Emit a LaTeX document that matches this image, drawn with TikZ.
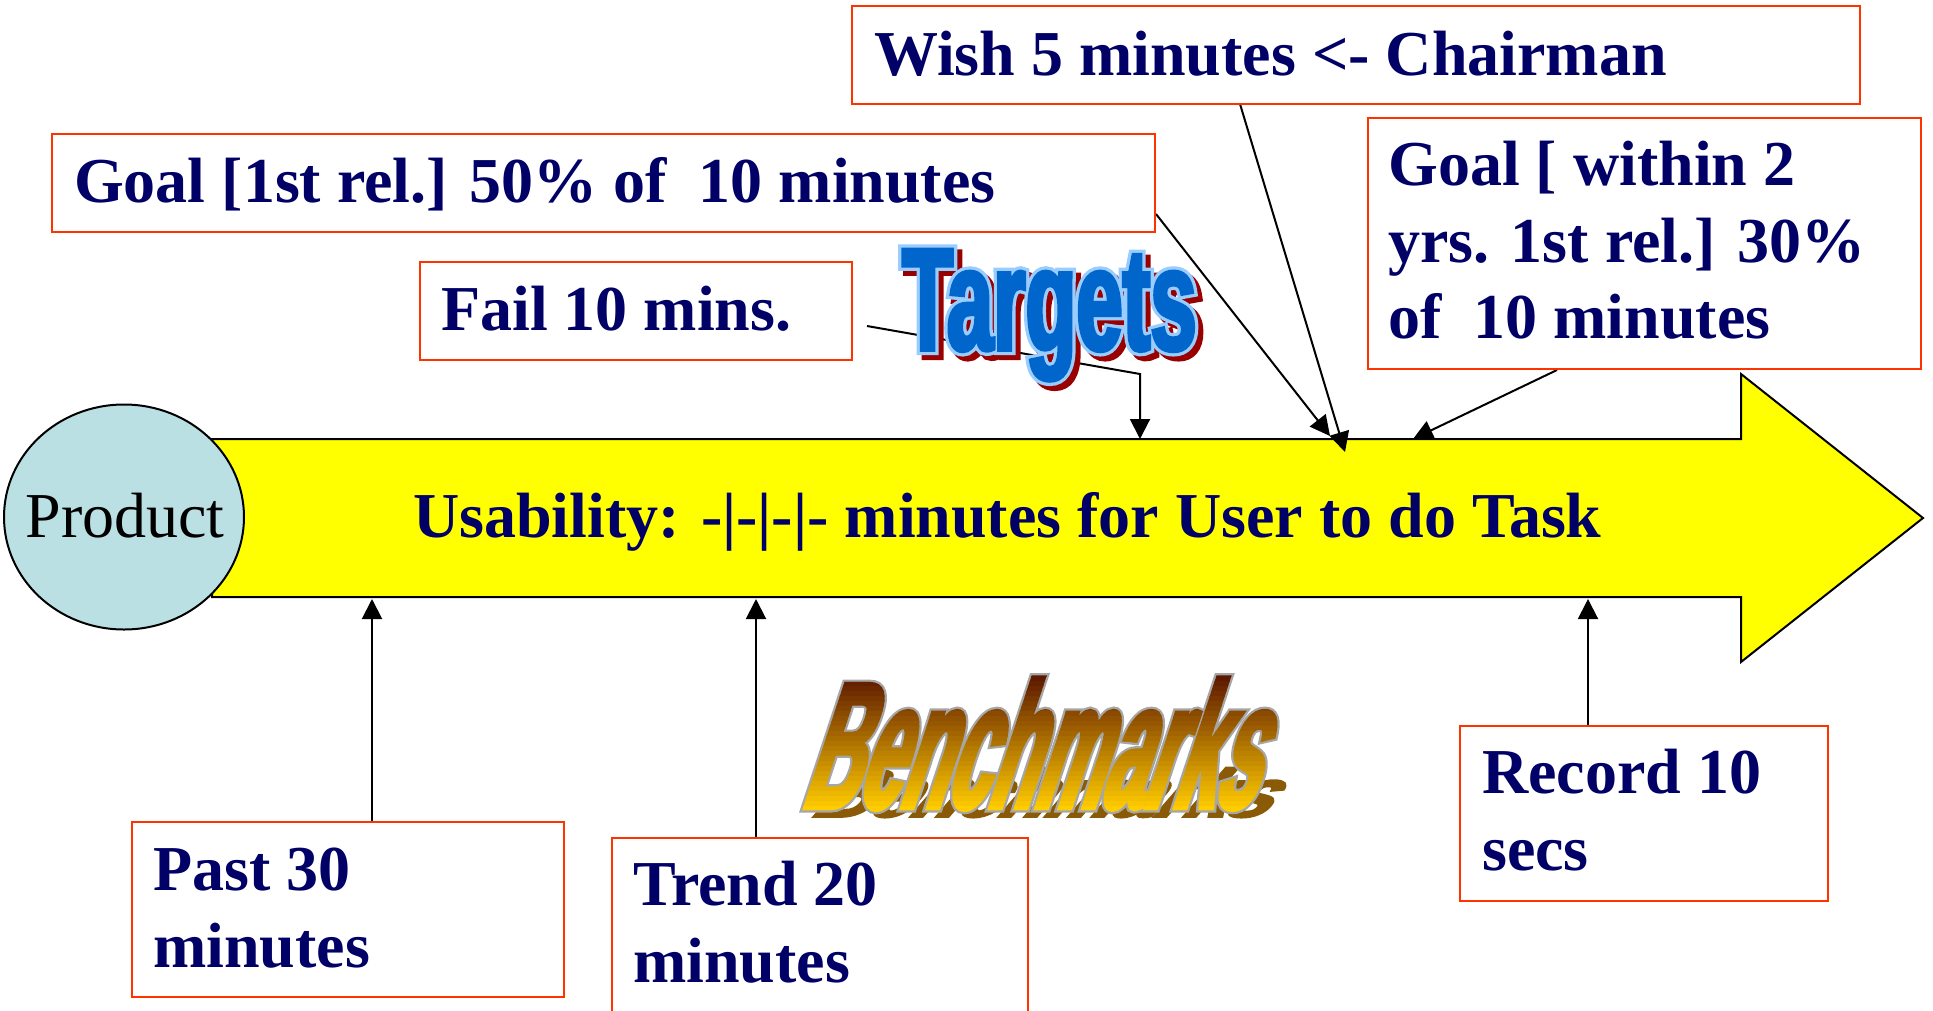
\documentclass[tikz,border=0pt]{standalone}
\usepackage{fontspec}
\setmainfont{Liberation Serif}
\newfontfamily\tgtfont[FakeStretch=0.57,FakeBold=2.5]{Liberation Sans}
\newfontfamily\tgtedgefont[FakeStretch=0.57,FakeBold=7]{Liberation Sans}
\newfontfamily\bmkfont[FakeStretch=0.42,FakeSlant=0.33,FakeBold=2.5]{Liberation Sans}
\newfontfamily\bmkedgefont[FakeStretch=0.42,FakeSlant=0.33,FakeBold=5]{Liberation Sans}
\usetikzlibrary{arrows.meta,calc,shapes.geometric}

\definecolor{navy}{HTML}{000066}
\definecolor{boxred}{HTML}{FF3300}
\definecolor{bandyellow}{HTML}{FFFF00}
\definecolor{productfill}{HTML}{BBE0E3}
\definecolor{tgtblue}{HTML}{0066CC}
\definecolor{tgtedge}{HTML}{99CCFF}
\definecolor{tgtshadow}{HTML}{990000}
\definecolor{bmkedge}{HTML}{A6A6A6}
\definecolor{bmkshadow}{HTML}{8A5A06}
\definecolor{bmktop}{HTML}{520C00}
\definecolor{bmkbot}{HTML}{FFCC00}

\tikzset{
  notebox/.style={draw=boxred, line width=2.8, anchor=north west, inner sep=0pt, outer sep=0pt},
  boxtext/.style={font=\fontsize{64}{77}\selectfont\bfseries, text=navy, inner sep=0pt, anchor=base west},
  link/.style={line width=2, -{Triangle[length=20pt,width=20pt]}},
  tgt/.style={font=\fontsize{146}{150}\selectfont\tgtfont\bfseries, inner sep=0pt, anchor=base west},
  tgtedge/.style={font=\fontsize{146}{150}\selectfont\tgtedgefont\bfseries, inner sep=0pt, anchor=base west},
  bmk/.style={font=\fontsize{180}{185}\selectfont\bmkfont\bfseries, inner sep=0pt, anchor=base west},
  bmkedge/.style={font=\fontsize{180}{185}\selectfont\bmkedgefont\bfseries, inner sep=0pt, anchor=base west},
}

\begin{document}
\begin{tikzpicture}[x=1pt, y=-1pt]
\useasboundingbox (0,0) rectangle (1933,1010);

% the yellow block arrow of the usability scale
\draw[line width=2, fill=bandyellow, line join=miter]
  (212,439) -- (1741,439) -- (1741,374) -- (1923,518) -- (1741,662) -- (1741,597) -- (212,597) -- cycle;
\node[boxtext] (usability) at (413,537) {Usability: -|-|-|- minutes for User to do Task};

% the product
\node[ellipse, draw, line width=2, fill=productfill, minimum width=240pt, minimum height=225pt,
      inner sep=0pt] (product) at (124,517) {};
\node[font=\fontsize{64}{77}\selectfont, inner sep=0pt, anchor=base] (product-t) at (125,537) {Product};

% end points of the connectors
\coordinate (failFrom) at (867,326);
\coordinate (failBend) at (1140,374);
\coordinate (failTo)   at (1140,439);
\coordinate (wishFrom) at (1240,104);
\coordinate (wishTo)   at (1345,452);
\coordinate (goalFrom) at (1156,214);
\coordinate (goalTo)   at (1330,436);
\coordinate (gwFrom)   at (1557,370);
\coordinate (gwTo)     at (1413,439);
\coordinate (pastFrom) at (372,822);
\coordinate (pastTo)   at (372,599);
\coordinate (trendFrom) at (756,838);
\coordinate (trendTo)   at (756,599);
\coordinate (recFrom)  at (1588,726);
\coordinate (recTo)    at (1588,599);

\draw[link] (failFrom) -- (failBend) -- (failTo);
\draw[link] (wishFrom) -- (wishTo);
\draw[link] (goalFrom) -- (goalTo);
\draw[link] (gwFrom) -- (gwTo);
\draw[link] (pastFrom) -- (pastTo);
\draw[link] (trendFrom) -- (trendTo);
\draw[link] (recFrom) -- (recTo);

% target boxes
\node[notebox, minimum width=1008pt, minimum height=98pt] (wish) at (852,6) {};
\node[boxtext] (wish-t) at (874,75) {Wish 5 minutes <- Chairman};

\node[notebox, minimum width=1103pt, minimum height=98pt] (goal) at (52,134) {};
\node[boxtext] (goal-t) at (74,202) {Goal [1st rel.] 50\% of~ 10 minutes};

\node[notebox, minimum width=432pt, minimum height=98pt] (fail) at (420,262) {};
\node[boxtext] (fail-t) at (441,330) {Fail 10 mins.};

\node[notebox, minimum width=553pt, minimum height=251pt] (gw) at (1368,118) {};
\node[boxtext] (gw-t1) at (1388,185) {Goal [ within 2};
\node[boxtext] (gw-t2) at (1388,262) {yrs. 1st rel.] 30\%};
\node[boxtext] (gw-t3) at (1388,338) {of~ 10 minutes};

% benchmark boxes
\node[notebox, minimum width=432pt, minimum height=175pt] (past) at (132,822) {};
\node[boxtext] (past-t1) at (153,890) {Past 30};
\node[boxtext] (past-t2) at (153,967) {minutes};

\node[notebox, minimum width=416pt, minimum height=185pt] (trend) at (612,838) {};
\node[boxtext] (trend-t1) at (633,905) {Trend 20};
\node[boxtext] (trend-t2) at (633,982) {minutes};

\node[notebox, minimum width=368pt, minimum height=175pt] (rec) at (1460,726) {};
\node[boxtext] (rec-t1) at (1482,793) {Record 10};
\node[boxtext] (rec-t2) at (1482,870) {secs};

% "Targets" lettering: shadow, light outline, blue face
\node[tgtedge, text=tgtshadow] (targets-sh) at (907,355) {Targets};
\node[tgtedge, text=tgtedge] (targets-edge) at (902,350) {Targets};
\node[tgt, text=tgtblue] (targets) at (902,350) {Targets};

% "Benchmarks" lettering: flattened shadow, grey outline, face graded in bands
\begin{scope}[shift={(809,817)}]
  \node[bmk, text=bmkshadow, yscale=0.38, transform shape] (bmksh) at (0,0) {Benchmarks};
\end{scope}
\node[bmkedge, text=bmkedge] (bmk-edge) at (800,808) {Benchmarks};
\foreach \k in {0,...,28} {
  \pgfmathsetmacro\p{100-\k*100/28}
  \begin{scope}
    \clip (780,{666+\k*5}) rectangle (1300,{671.6+\k*5});
    \node[bmk, text=bmktop!\p!bmkbot] (bmkfill\k) at (800,808) {Benchmarks};
  \end{scope}
}
\end{tikzpicture}
\end{document}
